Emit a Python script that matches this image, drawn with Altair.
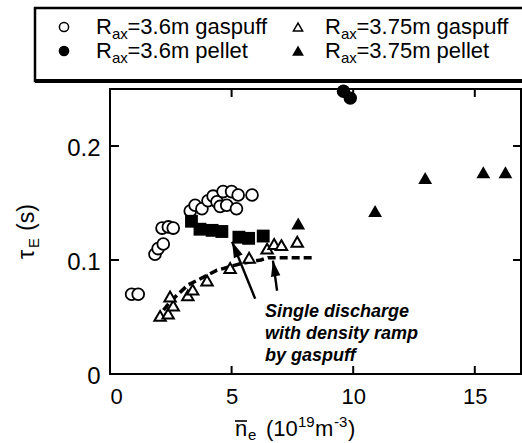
import altair as alt
import pandas as pd

# ---- data: energy confinement time vs line-averaged density ----
# R_ax = 3.6 m, gas puff (open circles)
gas36_ne = [0.89, 1.16, 1.85, 1.98, 2.19, 2.14, 2.40, 2.60, 3.30, 3.50, 3.78, 4.03,
            4.24, 4.40, 4.53, 4.65, 4.80, 5.00, 5.20, 5.27, 5.84]
gas36_tau = [0.070, 0.070, 0.105, 0.110, 0.114, 0.128, 0.129, 0.128, 0.143, 0.148, 0.145, 0.152,
             0.156, 0.151, 0.147, 0.160, 0.148, 0.160, 0.145, 0.157, 0.157]

# R_ax = 3.6 m, pellet (filled squares in the low-density group)
sq36_ne = [3.35, 3.70, 4.20, 4.60, 5.30, 5.70, 6.30]
sq36_tau = [0.134, 0.127, 0.126, 0.125, 0.120, 0.119, 0.121]

# R_ax = 3.6 m, pellet (filled circles)
pel36_ne = [9.60, 9.88]
pel36_tau = [0.248, 0.242]

# R_ax = 3.75 m, gas puff (open triangles)
gas375_ne = [2.06, 2.39, 2.60, 2.47, 3.20, 3.40, 3.99, 4.94, 5.72, 6.46, 6.75, 7.05, 7.70]
gas375_tau = [0.051, 0.053, 0.060, 0.068, 0.069, 0.074, 0.082, 0.093, 0.102, 0.110, 0.114, 0.113, 0.116]

# R_ax = 3.75 m, pellet (filled triangles)
pel375_ne = [7.74, 10.90, 12.96, 15.35, 16.26]
pel375_tau = [0.132, 0.143, 0.172, 0.177, 0.177]

# single discharge with density ramp (dashed trace)
ramp_ne = [2.20, 2.50, 3.20, 4.40, 5.40, 6.20, 6.50, 8.30]
ramp_tau = [0.056, 0.064, 0.078, 0.091, 0.097, 0.100, 0.102, 0.102]

# annotation arrows: tail -> head
arrow_tail_ne = [5.97, 6.87]
arrow_tail_tau = [0.066, 0.073]
arrow_head_ne = [5.02, 6.70]
arrow_head_tau = [0.116, 0.0995]

x_ticks = [0, 5, 10, 15]
y_ticks = [0, 0.1, 0.2]

# ---- layout ----
W, H = 411, 285
LEFT, TOP = 110, 89
X_MAX, Y_MAX = 16.9, 0.25
FONT = "Liberation Sans"


def px(x):
    return x - LEFT


def py(y):
    return y - TOP


x_scale = alt.Scale(domain=[0, X_MAX], nice=False, zero=False)
y_scale = alt.Scale(domain=[0, Y_MAX], nice=False)


def X(field="ne"):
    return alt.X(f"{field}:Q", scale=x_scale,
                 axis=alt.Axis(values=x_ticks, format="d", title=None, labelFontSize=22,
                               labelPadding=12, labelFont=FONT, labelColor="black",
                               domain=False, ticks=False, grid=False))


def Y(field="tau"):
    return alt.Y(f"{field}:Q", scale=y_scale,
                 axis=alt.Axis(values=y_ticks, format=".1~f", title=None, labelFontSize=24,
                               labelPadding=10, labelFont=FONT, labelColor="black",
                               labelOffset=2, domain=False, ticks=False, grid=False))


def frame(xs, ys):
    return pd.DataFrame({"ne": xs, "tau": ys})


def text(s, x, y, size, **kw):
    return alt.Chart(pd.DataFrame({"t": [s]})).mark_text(
        font=FONT, fontSize=size, color="black", align="left", baseline="alphabetic", **kw
    ).encode(x=alt.value(px(x)), y=alt.value(py(y)), text="t:N")


def sym(x, y, shape, size, filled):
    return alt.Chart(pd.DataFrame({"a": [0]})).mark_point(
        shape=shape, size=size, filled=True, fill="black" if filled else "white",
        stroke="black", strokeWidth=1.5, opacity=1
    ).encode(x=alt.value(px(x)), y=alt.value(py(y)))


layers = []

# inner ticks on all four sides
xt = pd.DataFrame({"ne": [v for v in x_ticks if v > 0]})
yt = pd.DataFrame({"tau": [v for v in y_ticks if v > 0]})
layers += [
    alt.Chart(xt).mark_rule(color="black", strokeWidth=2).encode(x=X(), y=alt.value(H), y2=alt.value(H - 8)),
    alt.Chart(xt).mark_rule(color="black", strokeWidth=2).encode(x=X(), y=alt.value(0), y2=alt.value(8)),
    alt.Chart(yt).mark_rule(color="black", strokeWidth=2).encode(y=Y(), x=alt.value(0), x2=alt.value(9)),
    alt.Chart(yt).mark_rule(color="black", strokeWidth=2).encode(y=Y(), x=alt.value(W), x2=alt.value(W - 8)),
]

# data series
layers += [
    alt.Chart(frame(ramp_ne, ramp_tau)).mark_line(
        color="black", strokeWidth=3.5, strokeDash=[8, 4]).encode(x=X(), y=Y()),
    alt.Chart(frame(gas36_ne, gas36_tau)).mark_point(
        shape="circle", size=140, filled=True, fill="white", stroke="black",
        strokeWidth=1.8, opacity=1).encode(x=X(), y=Y()),
    alt.Chart(frame(sq36_ne, sq36_tau)).mark_point(
        shape="square", size=165, filled=True, fill="black", opacity=1).encode(x=X(), y=Y()),
    alt.Chart(frame(gas375_ne, gas375_tau)).mark_point(
        shape="triangle-up", size=130, filled=True, fill="white", stroke="black",
        strokeWidth=2, opacity=1).encode(x=X(), y=Y()),
    alt.Chart(frame(pel375_ne, pel375_tau)).mark_point(
        shape="triangle-up", size=190, filled=True, fill="black", opacity=1).encode(x=X(), y=Y()),
    alt.Chart(frame(pel36_ne, pel36_tau)).mark_point(
        shape="circle", size=180, filled=True, fill="black", opacity=1).encode(x=X(), y=Y()),
]

# arrows pointing at the density-ramp trace
arrows = pd.DataFrame({"ne": arrow_tail_ne, "tau": arrow_tail_tau,
                       "ne2": arrow_head_ne, "tau2": arrow_head_tau})
layers.append(alt.Chart(arrows).mark_rule(color="black", strokeWidth=2.4).encode(
    x=X(), y=Y(), x2="ne2:Q", y2="tau2:Q"))
head_path = "M0,0L0.6,2L-0.6,2Z"
for i, ang in enumerate([337, 350]):
    layers.append(alt.Chart(frame([arrow_head_ne[i]], [arrow_head_tau[i]])).mark_point(
        shape=head_path, size=250, filled=True, fill="black", opacity=1, angle=ang
    ).encode(x=X(), y=Y()))

# annotation
for i, line in enumerate(["Single discharge", "with density ramp", "by gaspuff"]):
    layers.append(text(line, 265, 317 + 22 * i, 18, fontWeight="bold", fontStyle="italic"))

# y-axis title: tau_E (s)
layers += [
    text("τ", 34, 259, 23, angle=270),
    text("E", 39, 248, 15, angle=270),
    text("(s)", 34, 231, 23, angle=270),
]

# x-axis title: n_e (10^19 m^-3) with overbar
XB = 436
layers += [
    text("n", 235, XB, 22),
    alt.Chart(pd.DataFrame({"a": [0]})).mark_rule(color="black", strokeWidth=1.6).encode(
        x=alt.value(px(235)), x2=alt.value(px(247)), y=alt.value(py(XB - 15))),
    text("e", 248, XB + 3.5, 15),
    text("(10", 266, XB, 22),
    text("19", 298, XB - 9, 15),
    text("m", 315, XB, 22),
    text("-3", 334, XB - 9, 15),
    text(")", 348, XB, 22),
]

# legend box
layers += [
    alt.Chart(pd.DataFrame({"a": [0]})).mark_rect(
        fill="white", stroke="black", strokeWidth=2.5).encode(
        x=alt.value(px(35)), x2=alt.value(px(540)), y=alt.value(py(8)), y2=alt.value(py(81))),
    alt.Chart(pd.DataFrame({"a": [0]})).mark_rule(color="black", strokeWidth=4).encode(
        x=alt.value(px(35)), x2=alt.value(px(540)), y=alt.value(py(81))),
]
legend_rows = [
    (64, 27, "circle", False, 96, 34, "=3.6m gaspuff"),
    (64, 51, "circle", True, 96, 58, "=3.6m pellet"),
    (298, 27, "triangle-up", False, 325, 34, "=3.75m gaspuff"),
    (298, 51, "triangle-up", True, 325, 58, "=3.75m pellet"),
]
for mx, my, shape, filled, tx, ty, label in legend_rows:
    layers += [
        sym(mx, my, shape, 85, filled),
        text("R", tx, ty, 22),
        text("ax", tx + 16, ty + 5, 15),
        text(label, tx + 31.5, ty, 22),
    ]

chart = alt.layer(*layers).properties(
    width=W, height=H,
    padding={"left": LEFT, "top": TOP, "right": 522 - LEFT - W, "bottom": 443 - TOP - H},
    autosize=alt.AutoSizeParams(type="none"),
    background="white",
).configure_view(stroke="black", strokeWidth=2)

chart.save("out.html", embed_options={"renderer": "svg", "actions": False})
